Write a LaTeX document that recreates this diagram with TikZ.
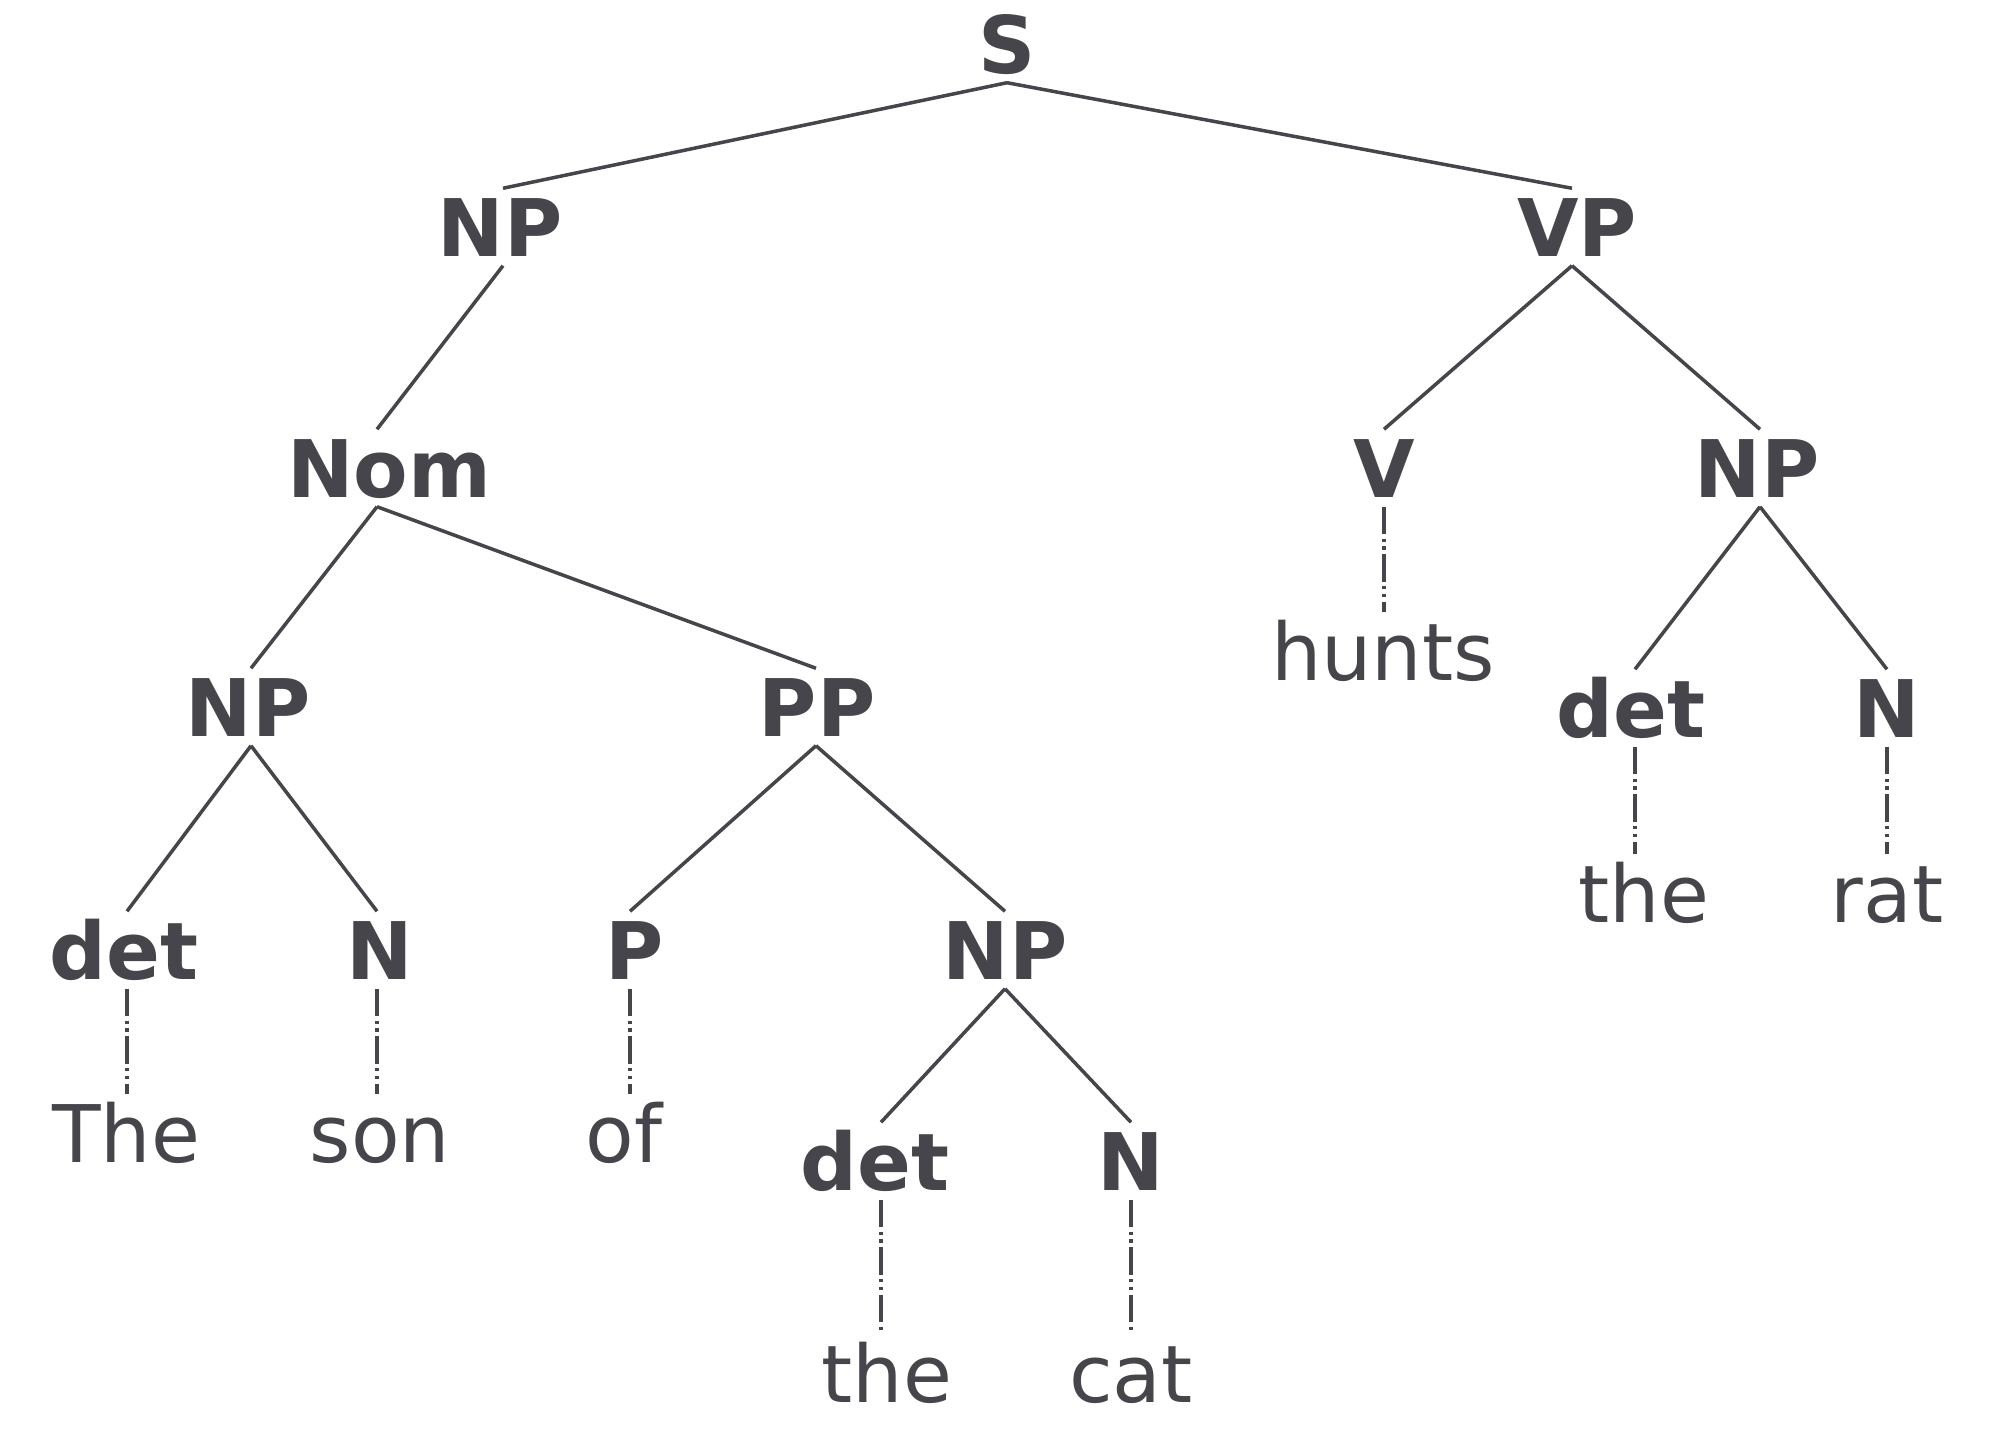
\documentclass[tikz,border=0pt]{standalone}
\usepackage{fontspec}
\usetikzlibrary{calc}
\newfontfamily\treefont{DejaVu Sans}
\definecolor{ink}{HTML}{46454B}
\begin{document}
\begin{tikzpicture}[x=0.01cm, y=-0.01cm,
  every node/.style={anchor=base, inner sep=0pt, text=ink,
    text height=0.67cm, text depth=0.09cm},
  cat/.style={font=\treefont\bfseries\fontsize{22.6pt}{27pt}\selectfont},
  word/.style={font=\treefont\fontsize{22.6pt}{27pt}\selectfont},
  branch/.style={draw=ink, line width=1.0pt},
  lexical/.style={draw=ink, line width=1.0pt,
    dash pattern=on 7.8pt off 1.3pt on 0.9pt off 1.3pt on 0.9pt off 1.3pt}]
\useasboundingbox (0,0) rectangle (2011,1450);

% phrase and category labels
\node[cat] (s)    at (1007,73)   {S};
\node[cat] (npa)  at (500,256)   {NP};
\node[cat] (vp)   at (1577,256)  {VP};
\node[cat] (nom)  at (389,497)   {Nom};
\node[cat] (v)    at (1384,497)  {V};
\node[cat] (npc)  at (1757,497)  {NP};
\node[cat] (npb)  at (248,736)   {NP};
\node[cat] (pp)   at (817,736)   {PP};
\node[cat] (detr) at (1631,737)  {det};
\node[cat] (nr)   at (1887,737)  {N};
\node[cat] (detl) at (124,979)   {det};
\node[cat] (nl)   at (380,979)   {N};
\node[cat] (p)    at (635,979)   {P};
\node[cat] (npd)  at (1005,979)  {NP};
\node[cat] (detc) at (875,1190)  {det};
\node[cat] (nc)   at (1131,1190) {N};

% words
\node[word] (hunts) at (1383,680)  {hunts};
\node[word] (ther)  at (1644,922)  {the};
\node[word] (rat)   at (1887,922)  {rat};
\node[word] (w1)    at (126,1162)  {The};
\node[word] (son)   at (380,1162)  {son};
\node[word] (of)    at (624,1162)  {of};
\node[word] (thec)  at (887,1402)  {the};
\node[word] (cat)   at (1131,1402) {cat};

% constituent branches
\draw[branch] (s.south) -- ($(npa.north)+(3,0)$);
\draw[branch] (s.south) -- ($(vp.north)+(-5,0)$);
\draw[branch] ($(npa.south)+(3,0)$) -- ($(nom.north)+(-12,0)$);
\draw[branch] ($(vp.south)+(-5,0)$) -- (v.north);
\draw[branch] ($(vp.south)+(-5,0)$) -- ($(npc.north)+(3,0)$);
\draw[branch] ($(nom.south)+(-12,0)$) -- ($(npb.north)+(3,0)$);
\draw[branch] ($(nom.south)+(-12,0)$) -- ($(pp.north)+(-1,0)$);
\draw[branch] ($(npc.south)+(3,0)$) -- ($(detr.north)+(4,0)$);
\draw[branch] ($(npc.south)+(3,0)$) -- (nr.north);
\draw[branch] ($(npb.south)+(3,0)$) -- ($(detl.north)+(3,0)$);
\draw[branch] ($(npb.south)+(3,0)$) -- ($(nl.north)+(-3,0)$);
\draw[branch] ($(pp.south)+(-1,0)$) -- ($(p.north)+(-5,0)$);
\draw[branch] ($(pp.south)+(-1,0)$) -- (npd.north);
\draw[branch] (npd.south) -- ($(detc.north)+(6,0)$);
\draw[branch] (npd.south) -- (nc.north);

% lexical links
\draw[lexical] (v.south) -- ($(hunts.north)+(1,0)$);
\draw[lexical] ($(detr.south)+(4,0)$) -- ($(ther.north)+(-9,0)$);
\draw[lexical] (nr.south) -- (rat.north);
\draw[lexical] ($(detl.south)+(3,0)$) -- ($(w1.north)+(1,0)$);
\draw[lexical] ($(nl.south)+(-3,0)$) -- ($(son.north)+(-3,0)$);
\draw[lexical] ($(p.south)+(-5,0)$) -- ($(of.north)+(6,0)$);
\draw[lexical] ($(detc.south)+(6,0)$) -- ($(thec.north)+(-6,0)$);
\draw[lexical] (nc.south) -- (cat.north);
\end{tikzpicture}
\end{document}
